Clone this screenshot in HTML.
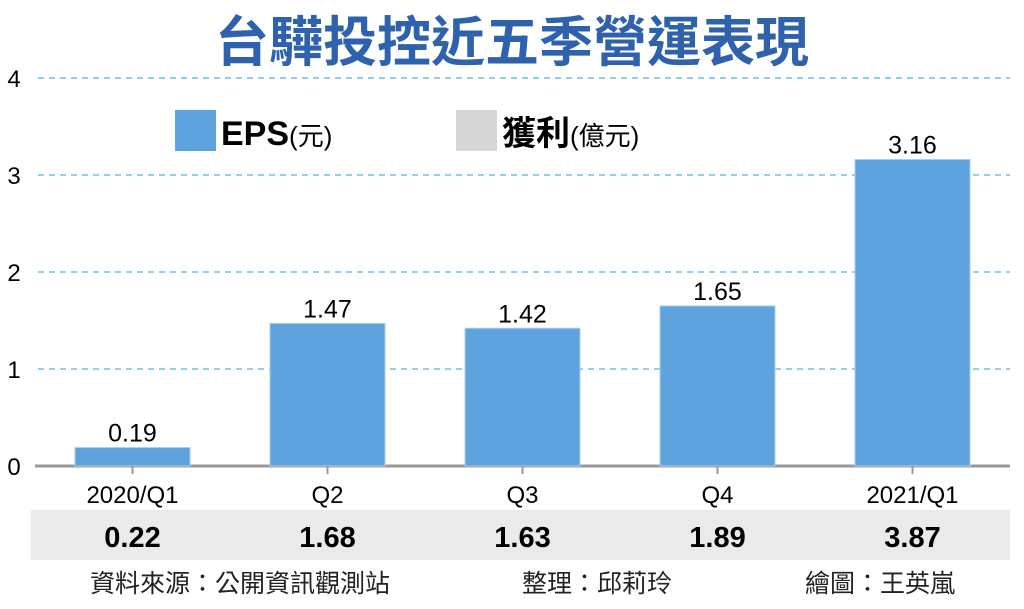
<!DOCTYPE html>
<html><head><meta charset="utf-8"><style>
body{margin:0;background:#fff;width:1024px;height:604px;overflow:hidden}
svg text{font-family:"Liberation Sans","Noto Sans CJK TC",sans-serif}
</style></head><body>
<svg id="c" width="1024" height="604">
<text x="512" y="61" text-anchor="middle" font-size="54" fill="#2f62ad" font-weight="bold">台驊投控近五季營運表現</text>
<g id="grid"></g>
<g id="legend">
<rect x="175" y="110" width="41" height="41" fill="#5fa3de"/>
<text x="221" y="145" font-size="34" font-weight="bold">EPS<tspan font-size="26" font-weight="normal">(元)</tspan></text>
<rect x="456" y="110" width="41" height="41" fill="#d6d6d6"/>
<text x="502" y="145" font-size="34" font-weight="bold">獲利<tspan font-size="26" font-weight="normal">(億元)</tspan></text>
</g>
<g id="bars"></g>
<rect x="31" y="510" width="979" height="50" fill="#ebeaea"/>
<g id="profit"></g>
<text x="90" y="592" font-size="25" fill="#222">資料來源：公開資訊觀測站</text>
<text x="522" y="592" font-size="25" fill="#222">整理：邱莉玲</text>
<text x="805" y="592" font-size="25" fill="#222">繪圖：王英嵐</text>
</svg>
<script>
const categories=["2020/Q1","Q2","Q3","Q4","2021/Q1"];
const eps=[0.19,1.47,1.42,1.65,3.16];
const profit=[0.22,1.68,1.63,1.89,3.87];
const yTicks=[0,1,2,3,4];
const NS="http://www.w3.org/2000/svg";
const y=v=>466-v*97;
const xc=i=>132.5+i*195;
function mk(t,a,p,txt){const e=document.createElementNS(NS,t);for(const k in a)e.setAttribute(k,a[k]);if(txt!==undefined)e.textContent=txt;p.appendChild(e);return e;}
const grid=document.getElementById('grid'),bars=document.getElementById('bars'),pr=document.getElementById('profit');
yTicks.forEach(t=>{
 if(t>0){const l=mk('line',{x1:38,x2:1010,y1:y(t),y2:y(t),stroke:'#6cc0ea','stroke-width':1.5,'stroke-dasharray':'6 5'},grid);
 
 }
 const tx=mk('text',{x:14,y:y(t)+9,'font-size':24,'text-anchor':'middle'},grid,String(t));
 
 
});
const ax=mk('line',{x1:35,x2:1010,y1:466,y2:466,stroke:'#999','stroke-width':3},grid);


categories.forEach((c,i)=>{
 const b=mk('rect',{x:xc(i)-57.5,y:y(eps[i]),width:115,height:466-y(eps[i]),fill:'#5fa3de',stroke:'#a9cdef','stroke-width':1},bars);
 
 
 const v=mk('text',{x:xc(i),y:y(eps[i])-6,'font-size':25,'text-anchor':'middle'},bars,eps[i].toFixed(2));
 
 
 const tk=mk('line',{x1:xc(i),x2:xc(i),y1:466,y2:474,stroke:'#999','stroke-width':2},bars);
 
 
 const lb=mk('text',{x:xc(i),y:503,'font-size':24,'text-anchor':'middle'},bars,c);
 
 
 const p=mk('text',{x:xc(i),y:547,'font-size':29,'font-weight':'bold','text-anchor':'middle'},pr,profit[i].toFixed(2));
 
 
});
</script>
</body></html>
